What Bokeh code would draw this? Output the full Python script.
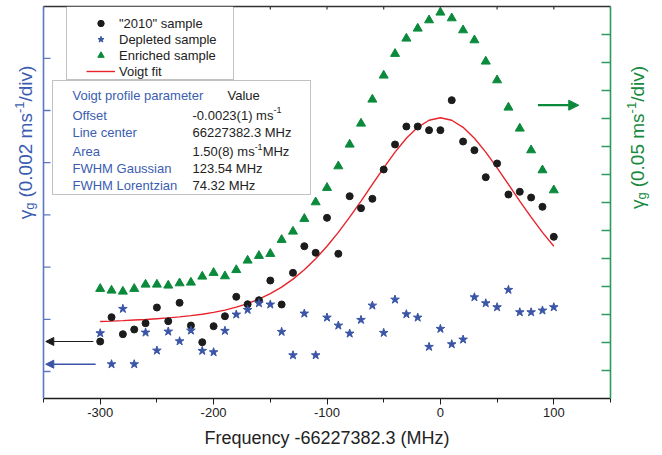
import math
from bokeh.plotting import figure
from bokeh.layouts import row
from bokeh.models import (Range1d, LinearAxis, FixedTicker, Legend, LegendItem,
                          Label, BoxAnnotation, Arrow, NormalHead)
from bokeh.embed import file_html
from bokeh.resources import INLINE

# ---------------- data ----------------
# frequency offset from 66227382.3 MHz
freq = list(range(-300, 101, 10))

# "2010" sample, gamma_g in divisions of 0.002 ms^-1 (left axis)
gamma_2010 = [0.575, 1.040, 0.715, 0.805, 0.925, 1.226, 0.964, 1.316, 0.881, 0.561,
              0.868, 1.059, 1.431, 1.289, 1.366, 1.743, 1.284, 1.891, 2.400, 2.274,
              2.944, 2.255, 3.358, 3.128, 3.308, 3.870, 4.349, 4.693, 4.693, 4.623,
              4.623, 5.197, 4.406, 4.239, 3.722, 3.985, 3.391, 3.443, 3.333, 3.155,
              2.580]

# Depleted sample, divisions of 0.002 ms^-1 (left axis)
gamma_depleted = [0.734, 0.140, 1.201, 0.140, 0.747, 0.402, 0.766, 0.580, 0.785, 0.397,
                  0.370, 0.780, 1.092, 1.182, 1.308, 1.284, 0.761, 0.312, 1.111, 0.312,
                  1.034, 0.881, 0.728, 0.990, 1.264, 0.741, 1.379, 1.098, 1.034, 0.473,
                  0.818, 0.523, 0.613, 1.423, 1.308, 1.232, 1.565, 1.136, 1.136, 1.169,
                  1.232]

# Enriched sample, divisions of 0.05 ms^-1 (right axis)
gamma_enriched = [3.918, 3.857, 3.821, 3.918, 4.071, 4.071, 4.036, 4.118, 4.143, 4.357,
                  4.489, 4.368, 4.590, 4.929, 5.096, 5.168, 5.668, 5.964, 6.418, 7.011,
                  7.525, 8.296, 9.071, 9.821, 10.679, 11.536, 12.311, 12.857, 13.214, 13.511,
                  13.786, 13.582, 13.154, 12.796, 12.036, 11.368, 10.393, 9.643, 8.868, 8.154,
                  7.439]

# Voigt fit curve (left axis divisions)
voigt_fit = [0.958, 0.966, 0.975, 0.986, 0.997, 1.012, 1.027, 1.046, 1.070, 1.098,
             1.133, 1.177, 1.232, 1.300, 1.385, 1.490, 1.617, 1.769, 1.950, 2.159,
             2.399, 2.665, 2.956, 3.265, 3.585, 3.902, 4.203, 4.468, 4.678, 4.813,
             4.860, 4.813, 4.678, 4.468, 4.203, 3.902, 3.585, 3.265, 2.956, 2.665,
             2.399]

x_ticks = [-300, -200, -100, 0, 100]
x_tick_labels = ["-300", "-200", "-100", "0", "100"]
x_minor = [-350, -250, -150, -50, 50, 150]
left_ticks = [0, 1, 2, 3, 4, 5, 6]
right_ticks = list(range(1, 14))

table_names = ["Offset", "Line center", "Area", "FWHM Gaussian", "FWHM Lorentzian"]

# ---------------- style ----------------
FONT = "Liberation Sans"
C_BLACK = "#1c1c1c"
C_BLUE = "#3a55a6"
C_GREEN = "#0b8a3c"
C_RED = "#e8232b"
C_LAX = "#5b78c0"
C_RAX = "#2f9a5c"
C_TXTBLUE = "#3b5db0"
C_TXTGREEN = "#17893c"

X_LO, X_HI = -350, 150
YL_LO, YL_HI = -0.517, 6.992
YR_LO, YR_HI = 0, 14

FIG_H = 452

p = figure(frame_width=567, frame_height=392,
           x_range=Range1d(X_LO, X_HI), y_range=Range1d(YL_LO, YL_HI),
           output_backend="svg", toolbar_location=None,
           x_axis_location=None, y_axis_location=None,
           min_border_left=2, min_border_right=2, min_border_top=6, min_border_bottom=54)
p.extra_y_ranges = {"right": Range1d(YR_LO, YR_HI)}
p.outline_line_color = None
p.background_fill_color = "white"
p.border_fill_color = "white"
for g in p.grid:
    g.visible = False

# bottom axis
xb = LinearAxis(ticker=FixedTicker(ticks=x_ticks, minor_ticks=x_minor),
                axis_label="Frequency -66227382.3 (MHz)")
xb.major_label_overrides = {t: s for t, s in zip(x_ticks, x_tick_labels)}
xb.major_tick_in = 0
xb.major_tick_out = 6
xb.minor_tick_in = 0
xb.minor_tick_out = 4
xb.axis_line_color = C_BLACK
xb.axis_line_width = 1.4
xb.major_tick_line_color = C_BLACK
xb.minor_tick_line_color = C_BLACK
xb.major_label_text_font = FONT
xb.major_label_text_font_size = "13px"
xb.major_label_text_color = "#222222"
xb.major_label_standoff = 3
xb.axis_label_text_font = FONT
xb.axis_label_text_font_size = "18px"
xb.axis_label_text_font_style = "normal"
xb.axis_label_text_color = "#222222"
xb.axis_label_standoff = 8
p.add_layout(xb, "below")


def bare_axis(color, width, **kw):
    ax = LinearAxis(ticker=FixedTicker(ticks=[]), **kw)
    ax.major_tick_in = 0
    ax.major_tick_out = 0
    ax.minor_tick_in = 0
    ax.minor_tick_out = 0
    ax.major_label_standoff = 0
    ax.axis_line_color = color
    ax.axis_line_width = width
    return ax


p.add_layout(bare_axis("#333333", 1.4), "above")
p.add_layout(bare_axis(C_LAX, 1.6), "left")
p.add_layout(bare_axis(C_RAX, 1.6, y_range_name="right"), "right")

# inward ticks (markers centred on the frame edge; the outer half is clipped)
p.scatter([X_LO] * len(left_ticks), left_ticks, marker="dash", size=14,
          line_color=C_LAX, line_width=1.3)
p.scatter([X_HI] * len(right_ticks), right_ticks, marker="dash", size=18,
          line_color=C_RAX, line_width=1.3, y_range_name="right")
top_ticks = x_ticks + x_minor
p.scatter(top_ticks, [YL_HI] * len(top_ticks), marker="dash", angle=math.pi / 2, size=6,
          line_color="#333333", line_width=1.2)

# data
r_fit = p.line(freq, voigt_fit, line_color=C_RED, line_width=1.4)
r_2010 = p.scatter(freq, gamma_2010, marker="circle", size=7, fill_color=C_BLACK, line_color=C_BLACK)
r_dep = p.scatter(freq, gamma_depleted, marker="star", size=9, fill_color=C_BLUE, line_color=C_BLUE)
r_enr = p.scatter(freq, gamma_enriched, marker="triangle", size=9, fill_color=C_GREEN,
                  line_color=C_GREEN, y_range_name="right")

# arrows pointing to the axis each series belongs to
p.add_layout(Arrow(end=NormalHead(size=8, fill_color=C_BLACK, line_color=C_BLACK),
                   x_start=-306, y_start=gamma_2010[0], x_end=-348, y_end=gamma_2010[0],
                   line_color=C_BLACK, line_width=1.2))
p.add_layout(Arrow(end=NormalHead(size=8, fill_color=C_BLUE, line_color=C_BLUE),
                   x_start=-304, y_start=gamma_depleted[1], x_end=-348, y_end=gamma_depleted[1],
                   line_color=C_BLUE, line_width=1.6))
p.add_layout(Arrow(end=NormalHead(size=10, fill_color=C_GREEN, line_color=C_GREEN),
                   x_start=86, y_start=10.475, x_end=122, y_end=10.475, y_range_name="right",
                   line_color=C_GREEN, line_width=2.2))

# legend box + legend
p.add_layout(BoxAnnotation(left=23, right=190, top=392, bottom=319,
                           left_units="screen", right_units="screen",
                           top_units="screen", bottom_units="screen",
                           fill_color="white", fill_alpha=1.0,
                           line_color="#333333", line_width=1))
legend = Legend(items=[LegendItem(label='"2010" sample', renderers=[r_2010]),
                       LegendItem(label="Depleted sample", renderers=[r_dep]),
                       LegendItem(label="Enriched sample", renderers=[r_enr]),
                       LegendItem(label="Voigt fit", renderers=[r_fit])],
                location=(43, 319), padding=0, margin=0, spacing=0,
                glyph_width=29, glyph_height=16, label_height=16, label_standoff=4,
                border_line_color=None, background_fill_alpha=0.0,
                label_text_font=FONT, label_text_font_size="13px", label_text_color="#222222")
p.add_layout(legend, "center")

# parameter table
p.add_layout(BoxAnnotation(left=9, right=267, top=318, bottom=204,
                           left_units="screen", right_units="screen",
                           top_units="screen", bottom_units="screen",
                           fill_color="white", fill_alpha=1.0,
                           line_color="#333333", line_width=1))

W = {' ': 278, '(': 333, ')': 333, '.': 278, '-': 333, '/': 278, 'm': 833, 's': 500,
     'd': 556, 'i': 222, 'v': 500, 'g': 556, 'γ': 500, 'M': 833, 'H': 722, 'z': 500}


def tw(s, size):
    return sum(W.get(c, 556) for c in s) * size / 1000.0


def run_h(fig, pieces, x, y, color):
    """horizontal run; y is the vertical centre of the main text (screen units)"""
    pos = 0.0
    for text, size, rise, gap in pieces:
        pos += gap
        fig.add_layout(Label(x=x + pos, y=y + rise, x_units="screen", y_units="screen", text=text,
                             text_font=FONT, text_font_size=f"{size}px",
                             text_color=color, text_align="left", text_baseline="middle"))
        pos += tw(text, size)


def run_v(fig, pieces, xc, y0, color):
    """text rotated 90 deg, reading upwards; pieces centred individually"""
    pos = 0.0
    for text, size, rise, gap in pieces:
        pos += gap
        w = tw(text, size)
        fig.add_layout(Label(x=xc - rise, y=y0 + pos + w / 2, x_units="screen", y_units="screen",
                             text=text, angle=math.pi / 2, text_font=FONT,
                             text_font_size=f"{size}px", text_color=color,
                             text_align="center", text_baseline="middle"))
        pos += w


def tot(pieces):
    return sum(g + tw(t, s) for t, s, r, g in pieces)


# table rows: vertical centres in the frame's screen units
hdr_y = 302.7
row_y = [283.3, 266.0, 246.7, 229.7, 212.7]
BLK = "#222222"
run_h(p, [("Voigt profile parameter", 13, 0, 0)], 29, hdr_y, C_TXTBLUE)
run_h(p, [("Value", 13, 0, 0)], 184, hdr_y, BLK)
for name, yy in zip(table_names, row_y):
    run_h(p, [(name, 13, 0, 0)], 29, yy, C_TXTBLUE)
run_h(p, [("-0.0023(1) ms", 13, 0, 0), ("-1", 9, 5, 0)], 149, row_y[0], BLK)
run_h(p, [("66227382.3 MHz", 13, 0, 0)], 149, row_y[1], BLK)
run_h(p, [("1.50(8) ms", 13, 0, 0), ("-1", 9, 5, 0), ("MHz", 13, 0, 0)], 149, row_y[2], BLK)
run_h(p, [("123.54 MHz", 13, 0, 0)], 149, row_y[3], BLK)
run_h(p, [("74.32 MHz", 13, 0, 0)], 149, row_y[4], BLK)


# side strips holding the rotated axis titles
def strip(width):
    f = figure(width=width, height=FIG_H, x_range=Range1d(0, 1), y_range=Range1d(0, 1),
               output_backend="svg", toolbar_location=None,
               x_axis_location=None, y_axis_location=None, min_border=0)
    f.outline_line_color = None
    f.background_fill_color = "white"
    f.border_fill_color = "white"
    for g in f.grid:
        g.visible = False
    return f


left_strip = strip(41)
right_strip = strip(44)

lab_l = [("γ", 19, 0, 0), ("g", 13, -4, 0), ("(0.002 ms", 19, 0, 5), ("-1", 13, 6, 0), ("/div)", 19, 0, 0)]
lab_r = [("γ", 19, 0, 0), ("g", 13, -4, 0), ("(0.05 ms", 19, 0, 5), ("-1", 13, 6, 0), ("/div)", 19, 0, 0)]
# centres (image px): left title at y=196, right title at y=191
run_v(left_strip, lab_l, 25, FIG_H - (196 + tot(lab_l) / 2), C_TXTBLUE)
run_v(right_strip, lab_r, 25, FIG_H - (191 + tot(lab_r) / 2), C_TXTGREEN)

layout = row(left_strip, p, right_strip, spacing=0)
open("out.html", "w").write(file_html(layout, INLINE))
